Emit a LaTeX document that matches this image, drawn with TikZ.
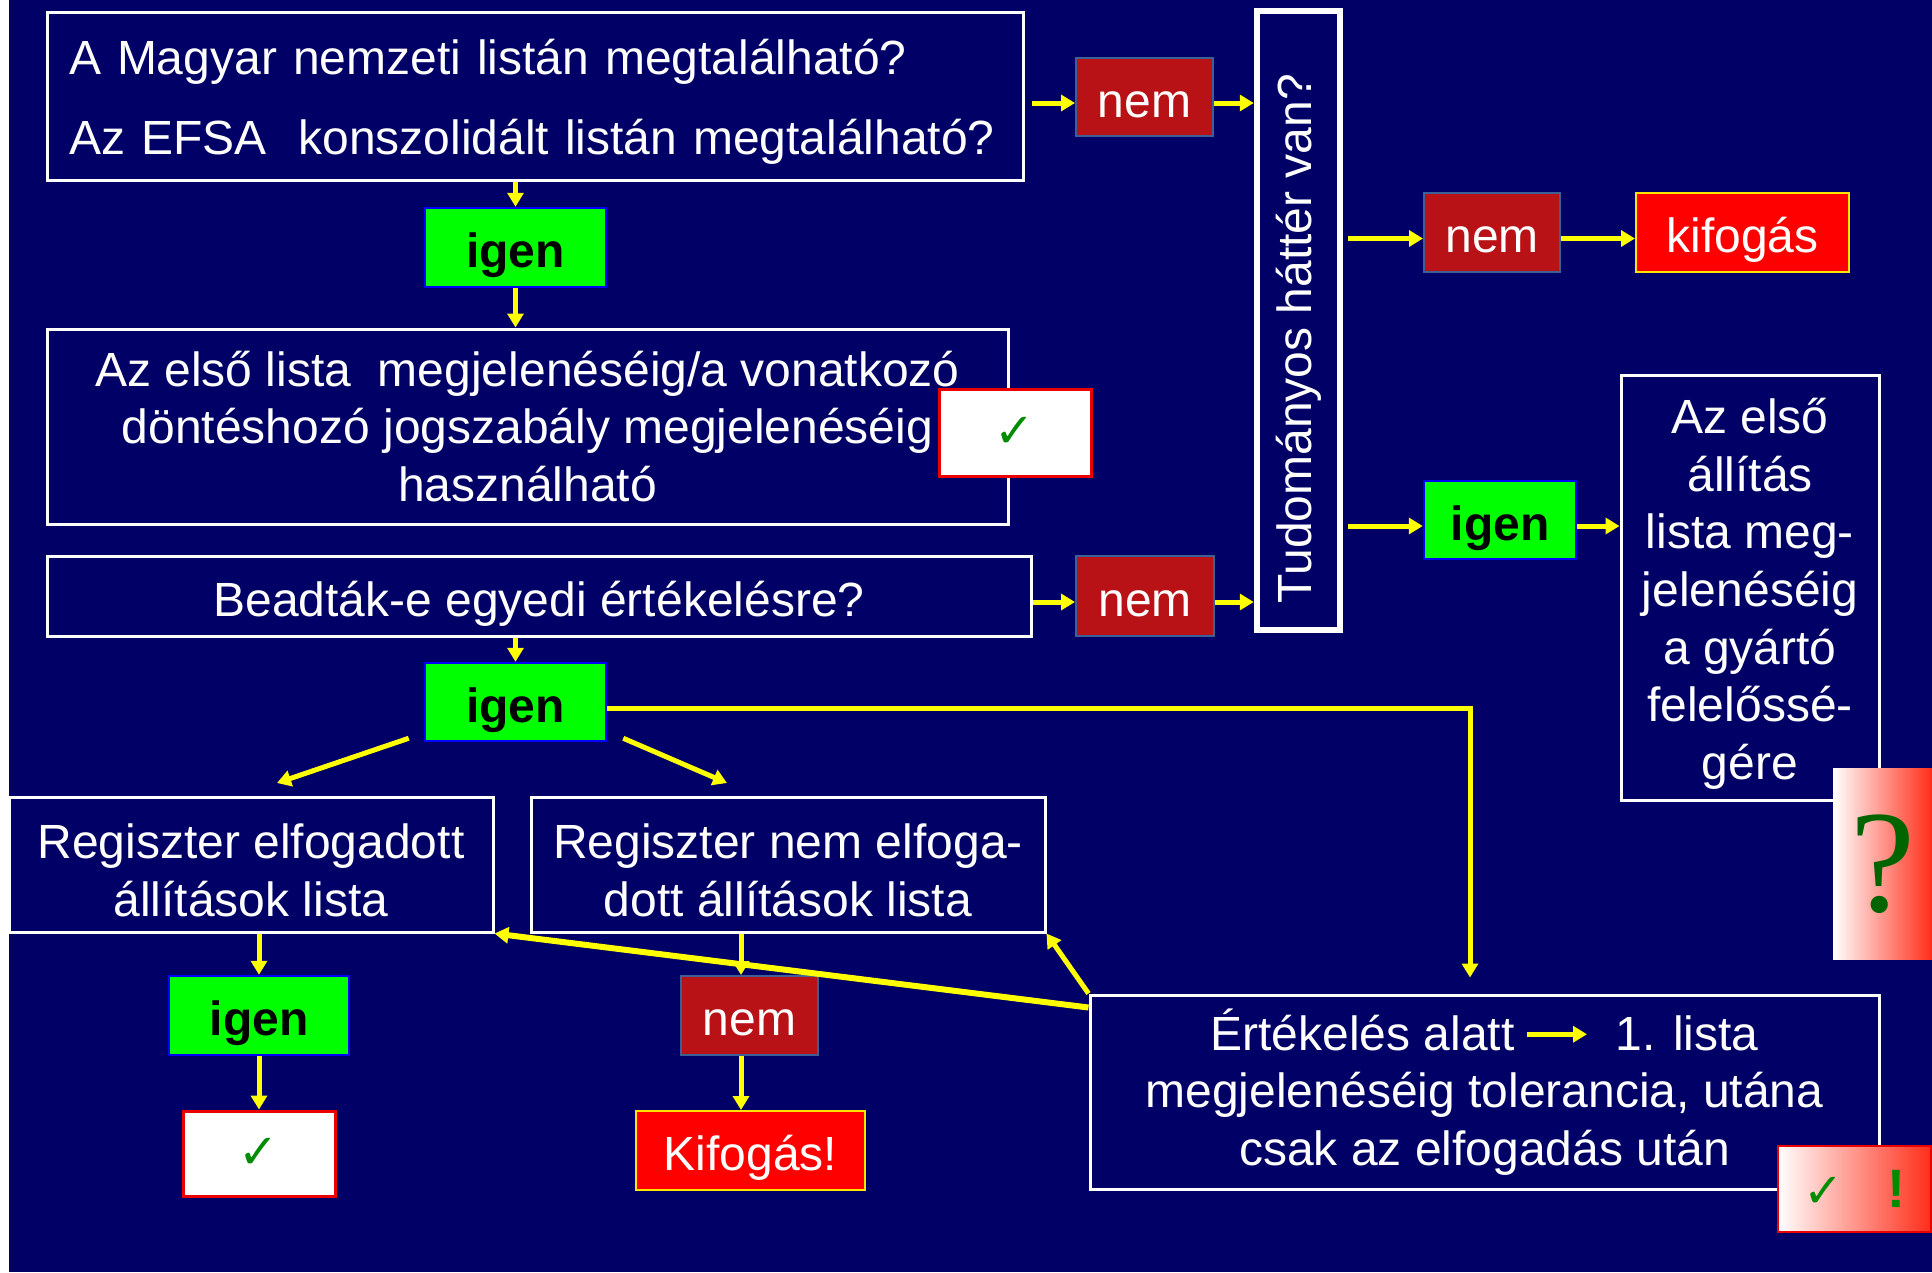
\documentclass[tikz,border=0pt]{standalone}
\usepackage{fontspec}
\setmainfont{Liberation Sans}
\newfontfamily\dejavu{DejaVu Sans}
\newfontfamily\qmfont{Liberation Serif}
\usetikzlibrary{arrows.meta,calc}
\definecolor{navy}{RGB}{0,0,102}
\definecolor{nemred}{RGB}{184,18,22}
\definecolor{nemborder}{RGB}{60,95,150}
\definecolor{igengreen}{RGB}{0,255,0}
\definecolor{chkgreen}{RGB}{0,140,0}
\definecolor{qmgreen}{RGB}{0,100,0}
\definecolor{arryellow}{RGB}{255,255,0}
\definecolor{gradred}{RGB}{255,45,25}
\definecolor{gradmid}{RGB}{255,185,180}
\definecolor{boxyellow}{RGB}{255,230,0}
\definecolor{chkred}{RGB}{235,0,0}
\newcommand\topgap[1]{\rule{0pt}{#1}}
\tikzset{
  bigfont/.style={font=\fontsize{48}{57.6}\selectfont},
  box/.style={draw=white, line width=3pt, text=white, inner sep=0pt, bigfont},
  oneline/.style={text height=40pt, text depth=0pt},
  nembox/.style={fill=nemred, draw=nemborder, line width=2pt, text=white, inner sep=0pt, bigfont, oneline},
  igenbox/.style={fill=igengreen, draw=blue, line width=2.5pt, text=black, inner sep=0pt, font=\fontsize{48}{57.6}\selectfont\bfseries, oneline},
  redbox/.style={fill=red, draw=boxyellow, line width=2pt, text=white, inner sep=0pt, bigfont, oneline},
  chkbox/.style={fill=white, draw=chkred, line width=3pt, inner sep=0pt, text=chkgreen, font=\dejavu\bfseries\fontsize{48}{48}\selectfont},
  arr/.style={draw=arryellow, line width=5pt, -{Triangle[length=14pt,width=16pt]}},
}
\begin{document}
\begin{tikzpicture}[x=1pt,y=-1pt]
\useasboundingbox (0,0) rectangle (1932,1272);
\fill[white] (0,0) rectangle (9,1272);
\fill[navy] (9,0) rectangle (1932,1272);

% top question
\node[box, minimum width=976, minimum height=168, text width=932, align=left] (q1) at (535,96)
  {\topgap{47pt}A Magyar nemzeti listán megtalálható?\\[22.4pt]Az EFSA\ \ konszolidált listán megtalálható?};
\node[nembox, minimum width=137, minimum height=78] (nem1) at (1144.5,97) {nem};
\node[box, line width=6.5pt, minimum width=83, minimum height=619] (tud) at (1298.5,320.5)
  {\rotatebox{90}{Tudományos háttér van?\hspace*{36pt}}};
\node[nembox, minimum width=136, minimum height=79] (nem2) at (1492,232.5) {nem};
\node[redbox, minimum width=213, minimum height=79] (kif1) at (1742.5,232.5) {kifogás};
\node[igenbox, minimum width=152, minimum height=78] (igenR) at (1500,520) {igen};
\node[box, minimum width=258, minimum height=425, align=center] (elso) at (1750,587.5)
  {\topgap{48pt}Az első\\állítás\\lista meg-\\jelenéséig\\a gyártó\\felelőssé-\\gére};
\node[minimum width=99, minimum height=191, inner sep=0pt, left color=white, middle color=gradmid, right color=gradred,
  text=qmgreen, font=\qmfont\fontsize{146}{146}\selectfont] (qm) at (1882.5,864) {?};

\node[igenbox, minimum width=181, minimum height=79] (igen1) at (515.5,247.5) {igen};
\node[box, minimum width=961, minimum height=195, align=center] (lista1) at (527.5,426.5)
  {Az első lista\ \ megjelenéséig/a vonatkozó\\döntéshozó jogszabály megjelenéséig\\használható};
\node[chkbox, minimum width=152, minimum height=87] (chk1) at (1015,432.5) {✓};

\node[box, oneline, minimum width=984, minimum height=80] (bead) at (539,596) {Beadták-e egyedi értékelésre?};
\node[nembox, minimum width=138, minimum height=80] (nem3) at (1145,596) {nem};
\node[igenbox, minimum width=181, minimum height=78] (igen2) at (515.5,702) {igen};

\node[box, minimum width=484, minimum height=135, align=center] (reg1) at (251,864.5)
  {\topgap{46pt}Regiszter elfogadott\\állítások lista};
\node[box, minimum width=514, minimum height=135, align=center] (reg2) at (788,864.5)
  {\topgap{46pt}Regiszter nem elfoga-\\dott állítások lista};
\node[igenbox, minimum width=180, minimum height=79] (igen3) at (259,1015.5) {igen};
\node[chkbox, minimum width=152, minimum height=85] (chk2) at (259,1153.5) {✓};
\node[nembox, minimum width=137, minimum height=79] (nem4) at (749.5,1015.5) {nem};
\node[redbox, minimum width=229, minimum height=79] (kif2) at (750.5,1150.5) {Kifogás!};

\node[box, minimum width=789, minimum height=194, align=center] (ertek) at (1484.5,1092)
  {\topgap{38pt}Értékelés alatt\hspace{10pt}\tikz[baseline=0pt]{\draw[draw=arryellow, line width=5pt, -{Triangle[length=14pt,width=16pt]}] (0pt,16pt) -- (60pt,16pt);}\hspace{26pt}1. lista\\megjelenéséig tolerancia, utána\\csak az elfogadás után};
\node[draw=chkred, line width=2.5pt, minimum width=153, minimum height=86, inner sep=0pt,
  left color=white, middle color=gradmid, right color=gradred, text=chkgreen] (chk3) at (1854.5,1189)
  {{\dejavu\bfseries\fontsize{48}{48}\selectfont ✓}\hspace{43pt}{\bfseries\fontsize{54}{54}\selectfont !}};

% horizontal connectors
\coordinate (r1) at ($(nem1.west)+(0,6)$);
\coordinate (r1b) at ($(nem1.east)+(0,6)$);
\draw[arr, shorten <=7pt] (r1 -| q1.east) -- (r1);
\draw[arr] (r1b) -- (r1b -| tud.west);
\coordinate (r2) at ($(nem2.west)+(0,6)$);
\coordinate (r2b) at ($(nem2.east)+(0,6)$);
\draw[arr, shorten <=5pt] (r2 -| tud.east) -- (r2);
\draw[arr] (r2b) -- (r2b -| kif1.west);
\coordinate (r3) at ($(igenR.west)+(0,6)$);
\coordinate (r3b) at ($(igenR.east)+(0,6)$);
\draw[arr, shorten <=5pt] (r3 -| tud.east) -- (r3);
\draw[arr] (r3b) -- (r3b -| elso.west);
\coordinate (r4) at ($(nem3.west)+(0,6)$);
\coordinate (r4b) at ($(nem3.east)+(0,6)$);
\draw[arr] (r4 -| bead.east) -- (r4);
\draw[arr] (r4b) -- (r4b -| tud.west);

% vertical connectors
\draw[arr] (igen1.north |- q1.south) -- (igen1.north);
\draw[arr] (igen1.south) -- (igen1.south |- lista1.north);
\draw[arr] (igen2.north |- bead.south) -- (igen2.north);
\draw[arr] (igen3.north |- reg1.south) -- (igen3.north);
\draw[arr] (igen3.south) -- (igen3.south |- chk2.north);
\coordinate (cx) at (741,0);
\draw[arr] (cx |- reg2.south) -- (cx |- nem4.north);
\draw[arr] (cx |- nem4.south) -- (cx |- kif2.north);

% igen2 elbow to evaluation box
\coordinate (r5) at ($(igen2.east)+(0,6)$);
\coordinate (ex) at (1470,0);
\draw[arr, shorten >=16pt] (r5) -| (ex |- ertek.north);

% diagonals from igen2
\coordinate (tipL) at (277,783);
\coordinate (tipR) at (727,783);
\draw[arr] ([shift={(-15pt,4pt)}]igen2.south west) -- (tipL);
\draw[arr] ([shift={(16pt,4pt)}]igen2.south east) -- (tipR);

% from evaluation box back to registers
\draw[arr, line width=6pt] ([yshift=-14pt]ertek.north west) -- (reg1.south east);
\draw[arr] (ertek.north west) -- (reg2.south east);
\end{tikzpicture}
\end{document}
